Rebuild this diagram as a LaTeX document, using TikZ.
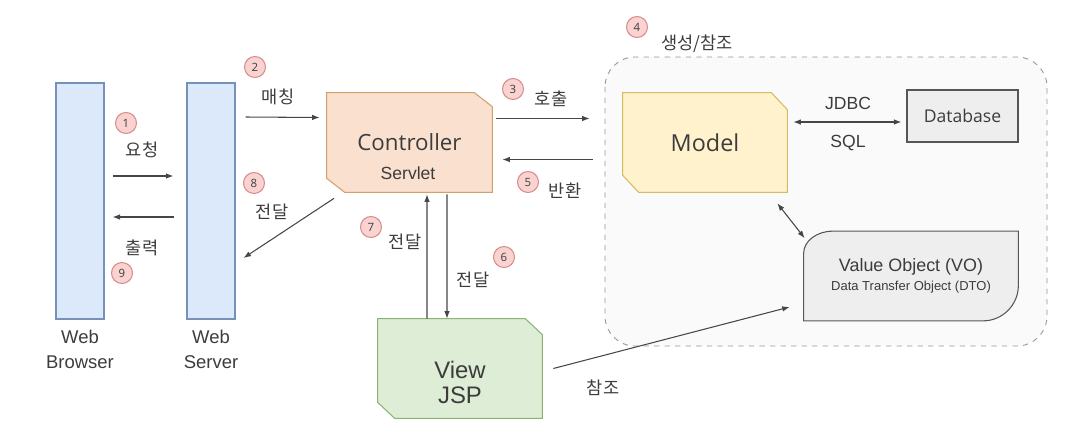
\documentclass[tikz,border=0pt]{standalone}
\usepackage{fontspec}
\setmainfont{Open Sans}
\newfontfamily\arialfont{Liberation Sans}
\newfontfamily\krfont{Noto Sans CJK KR}
\usepackage{tikz}
\usetikzlibrary{arrows.meta, positioning, calc, backgrounds}

\definecolor{txtgray}{RGB}{60,60,60}
\definecolor{linegray}{RGB}{70,70,70}
\definecolor{barfill}{RGB}{220,233,250}
\definecolor{barline}{RGB}{120,145,185}
\definecolor{ctrlfill}{RGB}{250,224,207}
\definecolor{ctrlline}{RGB}{210,160,110}
\definecolor{modelfill}{RGB}{255,242,204}
\definecolor{modelline}{RGB}{214,186,100}
\definecolor{viewfill}{RGB}{222,237,214}
\definecolor{viewline}{RGB}{140,180,115}
\definecolor{boxfill}{RGB}{238,238,238}
\definecolor{boxline}{RGB}{85,85,85}
\definecolor{numfill}{RGB}{250,210,208}
\definecolor{numline}{RGB}{215,140,140}
\definecolor{zonefill}{RGB}{250,250,250}
\definecolor{zoneline}{RGB}{150,150,150}

% outline with cut top-right and bottom-left corners
\newcommand{\cutoutline}[4]{%
    \draw[#4] (#1.north west) -- ($(#1.north east)+(-#2,0)$) -- ($(#1.north east)+(0,#3)$) -- (#1.south east) -- ($(#1.south west)+(#2,0)$) -- ($(#1.south west)+(0,-#3)$) -- cycle;}

\begin{document}
\begin{tikzpicture}[
    x=0.02cm, y=-0.02cm,
    font=\arialfont, text=txtgray,
    bar/.style={rectangle, draw=barline, fill=barfill, line width=0.6pt, minimum width=0.96cm, minimum height=4.72cm, inner sep=0},
    cutbox/.style={rectangle, minimum width=3.28cm, minimum height=1.98cm, inner sep=0},
    flow/.style={-{Latex[length=1.5mm, width=1.1mm]}, line width=0.6pt, draw=linegray},
    twoway/.style={{Latex[length=1.5mm, width=1.1mm]}-{Latex[length=1.5mm, width=1.1mm]}, line width=0.6pt, draw=linegray},
    stepnum/.style={circle, draw=numline, fill=numfill, line width=0.6pt, minimum size=0.42cm, inner sep=0, font=\fontsize{6.5}{7}\selectfont},
    krlabel/.style={font=\krfont\fontsize{10}{12}\selectfont},
    caption/.style={font=\arialfont\fontsize{10.5}{14.2}\selectfont, align=center, inner sep=0}
]
    \useasboundingbox (0,0) rectangle (1079,443);

    % Web tier
    \node[bar] (browser) at (80,201) {};
    \node[bar] (server) at (211,201) {};
    \node[caption, below=0.2cm of browser] (browsertxt) {Web\\Browser};
    \node[caption, below=0.2cm of server] (servertxt) {Web\\Server};

    % MVC boxes
    \node[cutbox, minimum width=3.3cm, font=\fontsize{12.7}{15}\selectfont] (ctrl) at (409.5,142.5) {Controller};
    \node[font=\arialfont\fontsize{10}{12}\selectfont] (ctrlsub) at (408,173) {Servlet};
    \node[cutbox, font=\fontsize{13.3}{15}\selectfont] (model) at (705,142.5) {Model};
    \node[cutbox] (view) at (460,368.5) {};
    \node[font=\arialfont\fontsize{13.6}{14.2}\selectfont, align=center] (viewtxt) at (460,382) {View\\JSP};
    \node[rectangle, draw=boxline, fill=boxfill, line width=0.6pt, minimum width=2.22cm, minimum height=1.04cm, font=\fontsize{10}{12}\selectfont] (db) at (962.5,116) {Database};
    \node[rectangle, minimum width=4.28cm, minimum height=1.78cm, align=center, inner sep=0] (vo) at (911,276) {{\fontsize{10.2}{12}\selectfont Value Object (VO)}\\[-1pt]{\fontsize{7.4}{9}\selectfont Data Transfer Object (DTO)}};

    % Model area and box outlines
    \begin{pgfonlayer}{background}
        \draw[dashed, draw=zoneline, fill=zonefill, line width=0.5pt, rounded corners=0.6cm] (605,57) rectangle (1047,346);
        \cutoutline{ctrl}{18}{14}{draw=ctrlline, fill=ctrlfill, line width=0.6pt}
        \cutoutline{model}{16}{17}{draw=modelline, fill=modelfill, line width=0.6pt}
        \cutoutline{view}{17}{16}{draw=viewline, fill=viewfill, line width=0.6pt}
        \draw[draw=boxline, fill=boxfill, line width=0.6pt] (vo.south west) -- ($(vo.north west)+(0,22)$) .. controls ($(vo.north west)+(0,10)$) and ($(vo.north west)+(13,0)$) .. ($(vo.north west)+(29,0)$) -- (vo.north east) -- ($(vo.south east)+(0,-35)$) .. controls ($(vo.south east)+(0,-16)$) and ($(vo.south east)+(-16,0)$) .. ($(vo.south east)+(-35,0)$) -- cycle;
    \end{pgfonlayer}

    % Requests and responses
    \draw[flow] ([shift={(8,-25)}]browser.east) -- ([shift={(-13,-25)}]server.west);
    \draw[flow] ([shift={(-12,16)}]server.west) -- ([shift={(8,16)}]browser.east);
    \draw[flow] ([shift={(10,-84)}]server.east) -- ([shift={(-7,-25)}]ctrl.west);
    \draw[flow] ([shift={(-75.5,6)}]ctrl.south) -- ([shift={(8,57)}]server.east);
    \draw[flow] ([shift={(4,-24)}]ctrl.east) -- ([shift={(-33,-24)}]model.west);
    \draw[flow] ([shift={(-30,17)}]model.west) -- ([shift={(10,17)}]ctrl.east);
    \draw[flow] ([shift={(-33,0)}]view.north) -- ([shift={(17.5,2)}]ctrl.south);
    \draw[flow] ([shift={(37.5,2)}]ctrl.south) -- ([shift={(-13,0)}]view.north);
    \draw[flow] ([shift={(11,0)}]view.east) -- ([shift={(-14,31)}]vo.west);
    \draw[twoway] ([shift={(6,-20.5)}]model.east) -- ([shift={(-5,6)}]db.west);
    \draw[twoway] ([shift={(-10,11)}]model.south east) -- ([shift={(1,7)}]vo.north west);

    % Step numbers
    \node[stepnum] (n1) at (126,123) {1};
    \node[stepnum] (n2) at (255,67) {2};
    \node[stepnum] (n3) at (513,89) {3};
    \node[stepnum] (n4) at (637,27) {4};
    \node[stepnum] (n5) at (528,182) {5};
    \node[stepnum] (n6) at (504,257) {6};
    \node[stepnum] (n7) at (371,227) {7};
    \node[stepnum] (n8) at (254,183) {8};
    \node[stepnum] (n9) at (122,273) {9};

    % Labels
    \node[krlabel] (l1) at (142,150) {요청};
    \node[krlabel] (l2) at (278,97) {매칭};
    \node[krlabel] (l3) at (551,99) {호출};
    \node[krlabel] (l4) at (697,44) {생성/참조};
    \node[krlabel] (l5) at (565,191) {반환};
    \node[krlabel] (l6) at (473,280) {전달};
    \node[krlabel] (l7) at (405,242) {전달};
    \node[krlabel] (l8) at (272,212) {전달};
    \node[krlabel] (l9) at (142,248) {출력};
    \node[krlabel] (lref) at (603,388) {참조};
    \node[font=\arialfont\fontsize{10}{12}\selectfont] (jdbc) at (848,103) {JDBC};
    \node[font=\arialfont\fontsize{10}{12}\selectfont] (sql) at (848,143) {SQL};
\end{tikzpicture}
\end{document}
